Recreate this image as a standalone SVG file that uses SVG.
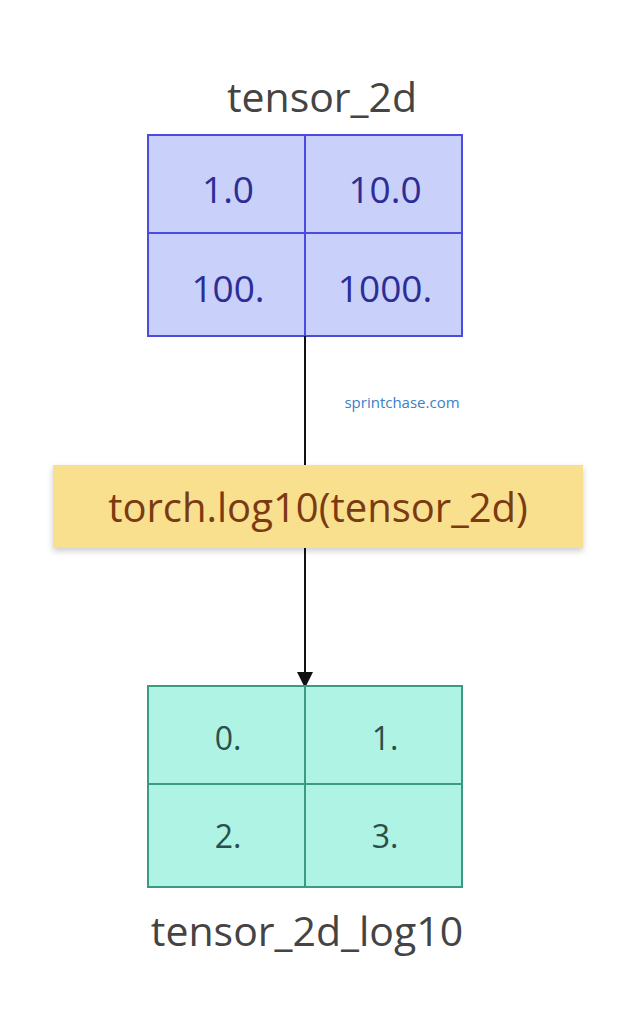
<svg xmlns="http://www.w3.org/2000/svg" width="637" height="1024" viewBox="0 0 637 1024">
<style>
text{font-family:"Open Sans","Noto Sans",sans-serif;text-anchor:middle}
.lbl{font-size:41px;fill:#444}
.a{fill:#c9d0fa;stroke:#4b4be0;stroke-width:2}
.at{font-size:37px;fill:#2d2d96}
.b{fill:#aef3e3;stroke:#3b9b82;stroke-width:2}
.bt{font-size:32px;fill:#2b4f48}
</style>
<defs><filter id="sh" x="-5%" y="-20%" width="110%" height="150%"><feDropShadow dx="0" dy="3" stdDeviation="3" flood-opacity="0.2"/></filter></defs>
<rect width="637" height="1024" fill="#fff"/>
<g id="tensor_2d">
<text class="lbl" x="322" y="112">tensor_2d</text>
<rect class="a" x="148" y="135" width="157" height="98"/><rect class="a" x="305" y="135" width="157" height="98"/>
<rect class="a" x="148" y="233" width="157" height="103"/><rect class="a" x="305" y="233" width="157" height="103"/>
<text class="at" x="228" y="203">1.0</text><text class="at" x="385" y="203">10.0</text>
<text class="at" x="228" y="302">100.</text><text class="at" x="385" y="302">1000.</text>
</g>
<g id="connectors">
<line x1="305" y1="336" x2="305" y2="465" stroke="#111" stroke-width="2"/>
<line x1="305" y1="548" x2="305" y2="674" stroke="#111" stroke-width="2"/>
<path d="M297,672L313,672L305,688z" fill="#111"/>
<text x="402" y="408" style="font-size:15px;fill:#3a80c8">sprintchase.com</text>
</g>
<g id="op">
<rect x="53" y="465" width="530" height="83" fill="#f8e08f" filter="url(#sh)"/>
<text x="318" y="522" style="font-size:40px;fill:#7b3b12">torch.log10(tensor_2d)</text>
</g>
<g id="tensor_2d_log10">
<rect class="b" x="148" y="686" width="157" height="98"/><rect class="b" x="305" y="686" width="157" height="98"/>
<rect class="b" x="148" y="784" width="157" height="103"/><rect class="b" x="305" y="784" width="157" height="103"/>
<text class="bt" x="228" y="750">0.</text><text class="bt" x="385" y="750">1.</text>
<text class="bt" x="228" y="848">2.</text><text class="bt" x="385" y="848">3.</text>
<text class="lbl" x="307" y="946">tensor_2d_log10</text>
</g>
</svg>
